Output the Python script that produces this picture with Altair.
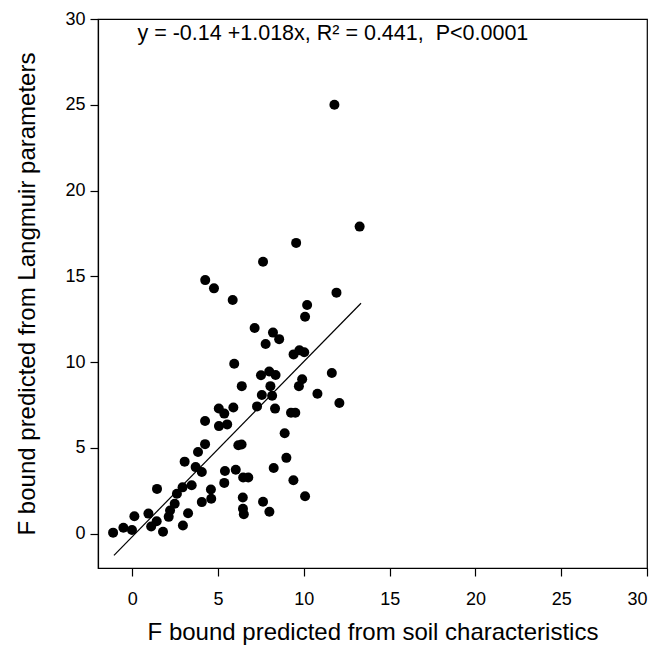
import altair as alt
import pandas as pd

# Points (x: soil characteristics, y: Langmuir parameters)
x_vals = [-1.12, -0.52, -0.02, 0.12, 0.94, 1.10, 1.42, 1.44, 1.79, 2.12,
          2.20, 2.47, 2.60, 2.93, 2.95, 3.25, 3.46, 3.05, 3.69, 4.05,
          3.83, 4.24, 4.05, 4.58, 4.60, 5.36, 5.40, 6.03, 6.18, 6.37,
          6.46, 6.76, 6.44, 6.45, 6.50, 7.62, 7.99, 8.24, 8.98, 9.39,
          10.07, 4.24, 5.04, 5.36, 5.89, 5.05, 5.53, 8.88, 7.27, 8.32,
          9.25, 9.50, 7.55, 8.15, 10.79, 12.07, 6.38, 8.05, 9.71, 9.90,
          7.50, 7.98, 8.35, 11.63, 5.94, 9.40, 9.74, 10.02, 7.77, 8.20,
          8.56, 7.13, 10.07, 10.19, 5.85, 4.25, 4.76, 7.62, 9.55, 11.90,
          13.25, 11.78]
y_vals = [0.06, 0.35, 0.22, 1.02, 1.17, 0.42, 0.73, 2.61, 0.11, 0.98,
          1.35, 1.75, 2.33, 2.70, 0.48, 1.19, 2.82, 4.20, 3.88, 3.60,
          4.76, 5.22, 1.84, 2.58, 2.04, 2.96, 3.65, 3.73, 5.15, 5.20,
          3.28, 3.27, 2.11, 1.45, 1.13, 1.86, 1.28, 3.83, 4.42, 3.11,
          2.18, 6.57, 7.30, 7.00, 7.35, 6.27, 6.37, 5.85, 7.42, 7.29,
          7.05, 7.05, 8.08, 8.04, 8.16, 7.62, 8.60, 8.60, 8.60, 9.00,
          9.23, 9.45, 9.25, 9.37, 9.91, 10.45, 10.69, 10.58, 11.06, 11.72,
          11.34, 11.99, 12.65, 13.33, 13.62, 14.78, 14.30, 15.85, 16.95, 14.05,
          17.90, 25.00]

# Regression line end points
line_x = [-1.07, 13.33]
line_y = [-1.26, 13.43]

tick_values = [0, 5, 10, 15, 20, 25, 30]
x_title = "F bound predicted from soil characteristics"
y_title = "F bound predicted from Langmuir parameters"
annotation = "y = -0.14 +1.018x, R\u00b2 = 0.441,\u00a0 P<0.0001"

pts = pd.DataFrame({"x": x_vals, "y": y_vals})
line_df = pd.DataFrame({"x": line_x, "y": line_y})
ann_df = pd.DataFrame({"x": [0.3], "y": [29.1], "t": [annotation]})

FONT = "Liberation Sans"

xs = alt.Scale(domain=[-2, 30], nice=False, zero=False)
ys = alt.Scale(domain=[-2, 30], nice=False, zero=False)

x_axis = alt.Axis(values=tick_values, title=x_title, titlePadding=12, labelPadding=14)
y_axis = alt.Axis(values=tick_values, title=y_title, titlePadding=25, labelPadding=5)

points = alt.Chart(pts).mark_circle(size=100, color="black", opacity=1).encode(
    x=alt.X("x:Q", scale=xs, axis=x_axis),
    y=alt.Y("y:Q", scale=ys, axis=y_axis),
)

line = alt.Chart(line_df).mark_line(color="black", strokeWidth=1.2).encode(
    x=alt.X("x:Q", scale=xs),
    y=alt.Y("y:Q", scale=ys),
)

text = alt.Chart(ann_df).mark_text(
    align="left", baseline="middle", font=FONT, fontSize=21.5, color="black"
).encode(
    x=alt.X("x:Q", scale=xs),
    y=alt.Y("y:Q", scale=ys),
    text="t:N",
)

chart = (
    alt.layer(line, points, text)
    .properties(
        width=549,
        height=549,
        autosize=alt.AutoSizeParams(type="none"),
        padding={"left": 98, "top": 19, "right": 13, "bottom": 91},
        background="white",
    )
    .configure_view(stroke="black", strokeWidth=1.2)
    .configure_axis(
        grid=False,
        domainColor="black",
        domainWidth=1.2,
        tickColor="black",
        tickSize=8,
        tickWidth=1.2,
        labelFont=FONT,
        labelFontSize=18,
        labelColor="black",
        titleFont=FONT,
        titleFontSize=24,
        titleFontWeight="normal",
        titleColor="black",
    )
)

chart.save("out.html", embed_options={"renderer": "svg", "actions": False})
